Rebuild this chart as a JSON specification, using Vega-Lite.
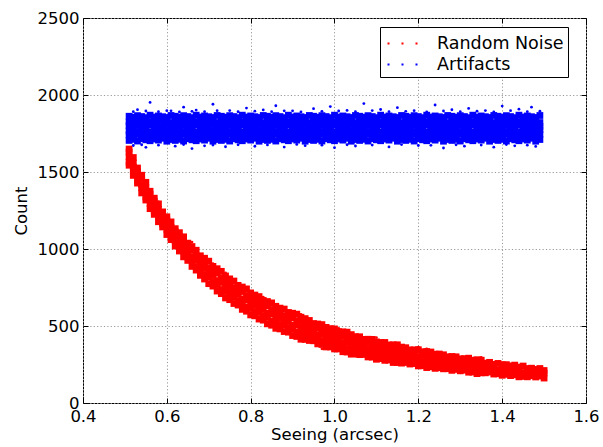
{
"$schema":"https://vega.github.io/schema/vega-lite/v6.json",
"width":503,"height":385,
"autosize":{"type":"none"},
"padding":{"left":83,"top":18,"right":17,"bottom":44},
"background":"white",
"config":{
"view":{"stroke":"black","strokeWidth":1},
"font":"DejaVu Sans",
"axis":{"labelFont":"DejaVu Sans","titleFont":"DejaVu Sans","labelFontSize":16.5,"titleFontSize":16.5,"titleFontWeight":"normal","labelColor":"black","titleColor":"black","domain":false,"tickColor":"black","tickSize":-5,"tickWidth":1,"grid":true,"gridColor":"#999999","gridDash":[1.2,2.2],"gridWidth":1,"labelOverlap":false},
"legend":{"orient":"none","legendX":297,"legendY":9,"strokeColor":"black","fillColor":"white","padding":4,"cornerRadius":0,"symbolType":"M-1.2,-0.08h0.16v0.16h-0.16zM-0.08,-0.08h0.16v0.16h-0.16zM1.04,-0.08h0.16v0.16h-0.16z","symbolSize":625,"symbolStrokeWidth":0,"labelFont":"DejaVu Sans","labelFontSize":17.5,"labelColor":"black","labelOffset":22,"rowPadding":0,"symbolOffset":6}
},
"datasets":{
"noise":[
{"x":0.51,"y":1544},{"x":0.51,"y":1564},{"x":0.51,"y":1598},{"x":0.51,"y":1629},{"x":0.51,"y":1649},
{"x":0.52,"y":1478},{"x":0.52,"y":1513},{"x":0.52,"y":1532},{"x":0.52,"y":1559},{"x":0.52,"y":1594},
{"x":0.53,"y":1428},{"x":0.53,"y":1447},{"x":0.53,"y":1482},{"x":0.53,"y":1506},{"x":0.53,"y":1526},
{"x":0.54,"y":1364},{"x":0.54,"y":1398},{"x":0.54,"y":1417},{"x":0.54,"y":1458},{"x":0.54,"y":1479},
{"x":0.55,"y":1318},{"x":0.55,"y":1337},{"x":0.55,"y":1376},{"x":0.55,"y":1398},{"x":0.55,"y":1433},
{"x":0.56,"y":1262},{"x":0.56,"y":1296},{"x":0.56,"y":1322},{"x":0.56,"y":1355},{"x":0.56,"y":1375},
{"x":0.57,"y":1225},{"x":0.57,"y":1245},{"x":0.57,"y":1279},{"x":0.57,"y":1310},{"x":0.57,"y":1330},
{"x":0.58,"y":1177},{"x":0.58,"y":1212},{"x":0.58,"y":1231},{"x":0.58,"y":1258},{"x":0.58,"y":1293},
{"x":0.59,"y":1143},{"x":0.59,"y":1162},{"x":0.59,"y":1197},{"x":0.59,"y":1221},{"x":0.59,"y":1241},
{"x":0.60,"y":1094},{"x":0.60,"y":1128},{"x":0.60,"y":1147},{"x":0.60,"y":1188},{"x":0.60,"y":1209},
{"x":0.61,"y":1061},{"x":0.61,"y":1080},{"x":0.61,"y":1119},{"x":0.61,"y":1141},{"x":0.61,"y":1176},
{"x":0.62,"y":1019},{"x":0.62,"y":1053},{"x":0.62,"y":1079},{"x":0.62,"y":1112},{"x":0.62,"y":1132},
{"x":0.63,"y":987},{"x":0.63,"y":1011},{"x":0.63,"y":1048},{"x":0.63,"y":1082},{"x":0.63,"y":1106},
{"x":0.64,"y":949},{"x":0.64,"y":988},{"x":0.64,"y":1010},{"x":0.64,"y":1040},{"x":0.64,"y":1079},
{"x":0.65,"y":926},{"x":0.65,"y":949},{"x":0.65,"y":987},{"x":0.65,"y":1014},{"x":0.65,"y":1038},
{"x":0.66,"y":887},{"x":0.66,"y":925},{"x":0.66,"y":947},{"x":0.66,"y":991},{"x":0.66,"y":1016},
{"x":0.67,"y":863},{"x":0.67,"y":886},{"x":0.67,"y":928},{"x":0.67,"y":953},{"x":0.67,"y":992},
{"x":0.68,"y":829},{"x":0.68,"y":867},{"x":0.68,"y":896},{"x":0.68,"y":932},{"x":0.68,"y":956},
{"x":0.69,"y":805},{"x":0.69,"y":833},{"x":0.69,"y":874},{"x":0.69,"y":912},{"x":0.69,"y":940},
{"x":0.70,"y":775},{"x":0.70,"y":818},{"x":0.70,"y":844},{"x":0.70,"y":878},{"x":0.70,"y":921},
{"x":0.71,"y":759},{"x":0.71,"y":786},{"x":0.71,"y":828},{"x":0.71,"y":859},{"x":0.71,"y":887},
{"x":0.72,"y":727},{"x":0.72,"y":769},{"x":0.72,"y":795},{"x":0.72,"y":843},{"x":0.72,"y":872},
{"x":0.73,"y":710},{"x":0.73,"y":737},{"x":0.73,"y":783},{"x":0.73,"y":812},{"x":0.73,"y":855},
{"x":0.74,"y":682},{"x":0.74,"y":724},{"x":0.74,"y":757},{"x":0.74,"y":797},{"x":0.74,"y":825},
{"x":0.75,"y":671},{"x":0.75,"y":699},{"x":0.75,"y":740},{"x":0.75,"y":778},{"x":0.75,"y":806},
{"x":0.76,"y":646},{"x":0.76,"y":689},{"x":0.76,"y":715},{"x":0.76,"y":749},{"x":0.76,"y":792},
{"x":0.77,"y":636},{"x":0.77,"y":663},{"x":0.77,"y":705},{"x":0.77,"y":736},{"x":0.77,"y":764},
{"x":0.78,"y":608},{"x":0.78,"y":650},{"x":0.78,"y":676},{"x":0.78,"y":724},{"x":0.78,"y":753},
{"x":0.79,"y":596},{"x":0.79,"y":623},{"x":0.79,"y":669},{"x":0.79,"y":698},{"x":0.79,"y":741},
{"x":0.80,"y":572},{"x":0.80,"y":614},{"x":0.80,"y":647},{"x":0.80,"y":687},{"x":0.80,"y":715},
{"x":0.81,"y":566},{"x":0.81,"y":594},{"x":0.81,"y":635},{"x":0.81,"y":673},{"x":0.81,"y":701},
{"x":0.82,"y":545},{"x":0.82,"y":588},{"x":0.82,"y":614},{"x":0.82,"y":648},{"x":0.82,"y":691},
{"x":0.83,"y":538},{"x":0.83,"y":565},{"x":0.83,"y":607},{"x":0.83,"y":638},{"x":0.83,"y":666},
{"x":0.84,"y":514},{"x":0.84,"y":556},{"x":0.84,"y":582},{"x":0.84,"y":630},{"x":0.84,"y":659},
{"x":0.85,"y":505},{"x":0.85,"y":532},{"x":0.85,"y":578},{"x":0.85,"y":607},{"x":0.85,"y":650},
{"x":0.86,"y":485},{"x":0.86,"y":527},{"x":0.86,"y":560},{"x":0.86,"y":600},{"x":0.86,"y":628},
{"x":0.87,"y":481},{"x":0.87,"y":509},{"x":0.87,"y":550},{"x":0.87,"y":588},{"x":0.87,"y":616},
{"x":0.88,"y":464},{"x":0.88,"y":507},{"x":0.88,"y":533},{"x":0.88,"y":567},{"x":0.88,"y":610},
{"x":0.89,"y":460},{"x":0.89,"y":487},{"x":0.89,"y":529},{"x":0.89,"y":560},{"x":0.89,"y":588},
{"x":0.90,"y":438},{"x":0.90,"y":480},{"x":0.90,"y":506},{"x":0.90,"y":554},{"x":0.90,"y":583},
{"x":0.91,"y":432},{"x":0.91,"y":459},{"x":0.91,"y":505},{"x":0.91,"y":534},{"x":0.91,"y":577},
{"x":0.92,"y":414},{"x":0.92,"y":456},{"x":0.92,"y":489},{"x":0.92,"y":529},{"x":0.92,"y":557},
{"x":0.93,"y":413},{"x":0.93,"y":441},{"x":0.93,"y":482},{"x":0.93,"y":520},{"x":0.93,"y":548},
{"x":0.94,"y":406},{"x":0.94,"y":445},{"x":0.94,"y":467},{"x":0.94,"y":497},{"x":0.94,"y":536},
{"x":0.95,"y":404},{"x":0.95,"y":427},{"x":0.95,"y":465},{"x":0.95,"y":492},{"x":0.95,"y":516},
{"x":0.96,"y":384},{"x":0.96,"y":422},{"x":0.96,"y":444},{"x":0.96,"y":488},{"x":0.96,"y":513},
{"x":0.97,"y":380},{"x":0.97,"y":403},{"x":0.97,"y":445},{"x":0.97,"y":470},{"x":0.97,"y":509},
{"x":0.98,"y":364},{"x":0.98,"y":402},{"x":0.98,"y":431},{"x":0.98,"y":467},{"x":0.98,"y":491},
{"x":0.99,"y":364},{"x":0.99,"y":388},{"x":0.99,"y":425},{"x":0.99,"y":459},{"x":0.99,"y":483},
{"x":1.00,"y":351},{"x":1.00,"y":390},{"x":1.00,"y":412},{"x":1.00,"y":442},{"x":1.00,"y":481},
{"x":1.01,"y":351},{"x":1.01,"y":374},{"x":1.01,"y":412},{"x":1.01,"y":439},{"x":1.01,"y":463},
{"x":1.02,"y":333},{"x":1.02,"y":371},{"x":1.02,"y":393},{"x":1.02,"y":437},{"x":1.02,"y":462},
{"x":1.03,"y":331},{"x":1.03,"y":354},{"x":1.03,"y":396},{"x":1.03,"y":421},{"x":1.03,"y":460},
{"x":1.04,"y":317},{"x":1.04,"y":355},{"x":1.04,"y":384},{"x":1.04,"y":420},{"x":1.04,"y":444},
{"x":1.05,"y":326},{"x":1.05,"y":346},{"x":1.05,"y":380},{"x":1.05,"y":411},{"x":1.05,"y":431},
{"x":1.06,"y":314},{"x":1.06,"y":349},{"x":1.06,"y":368},{"x":1.06,"y":395},{"x":1.06,"y":430},
{"x":1.07,"y":315},{"x":1.07,"y":334},{"x":1.07,"y":369},{"x":1.07,"y":393},{"x":1.07,"y":413},
{"x":1.08,"y":299},{"x":1.08,"y":333},{"x":1.08,"y":352},{"x":1.08,"y":393},{"x":1.08,"y":414},
{"x":1.09,"y":298},{"x":1.09,"y":317},{"x":1.09,"y":356},{"x":1.09,"y":378},{"x":1.09,"y":413},
{"x":1.10,"y":284},{"x":1.10,"y":318},{"x":1.10,"y":344},{"x":1.10,"y":377},{"x":1.10,"y":397},
{"x":1.11,"y":288},{"x":1.11,"y":308},{"x":1.11,"y":342},{"x":1.11,"y":373},{"x":1.11,"y":393},
{"x":1.12,"y":277},{"x":1.12,"y":312},{"x":1.12,"y":331},{"x":1.12,"y":358},{"x":1.12,"y":393},
{"x":1.13,"y":279},{"x":1.13,"y":298},{"x":1.13,"y":333},{"x":1.13,"y":357},{"x":1.13,"y":377},
{"x":1.14,"y":263},{"x":1.14,"y":297},{"x":1.14,"y":316},{"x":1.14,"y":357},{"x":1.14,"y":378},
{"x":1.15,"y":263},{"x":1.15,"y":282},{"x":1.15,"y":321},{"x":1.15,"y":343},{"x":1.15,"y":378},
{"x":1.16,"y":259},{"x":1.16,"y":297},{"x":1.16,"y":327},{"x":1.16,"y":363},
{"x":1.17,"y":263},{"x":1.17,"y":287},{"x":1.17,"y":325},{"x":1.17,"y":359},
{"x":1.18,"y":253},{"x":1.18,"y":292},{"x":1.18,"y":315},{"x":1.18,"y":345},
{"x":1.19,"y":256},{"x":1.19,"y":279},{"x":1.19,"y":318},{"x":1.19,"y":345},
{"x":1.20,"y":241},{"x":1.20,"y":279},{"x":1.20,"y":302},{"x":1.20,"y":346},
{"x":1.21,"y":242},{"x":1.21,"y":265},{"x":1.21,"y":308},{"x":1.21,"y":333},
{"x":1.22,"y":230},{"x":1.22,"y":268},{"x":1.22,"y":298},{"x":1.22,"y":334},
{"x":1.23,"y":235},{"x":1.23,"y":259},{"x":1.23,"y":297},{"x":1.23,"y":331},
{"x":1.24,"y":225},{"x":1.24,"y":264},{"x":1.24,"y":287},{"x":1.24,"y":317},
{"x":1.25,"y":229},{"x":1.25,"y":252},{"x":1.25,"y":291},{"x":1.25,"y":318},
{"x":1.26,"y":222},{"x":1.26,"y":256},{"x":1.26,"y":273},{"x":1.26,"y":313},
{"x":1.27,"y":223},{"x":1.27,"y":242},{"x":1.27,"y":279},{"x":1.27,"y":300},
{"x":1.28,"y":212},{"x":1.28,"y":246},{"x":1.28,"y":270},{"x":1.28,"y":302},
{"x":1.29,"y":218},{"x":1.29,"y":238},{"x":1.29,"y":270},{"x":1.29,"y":300},
{"x":1.30,"y":209},{"x":1.30,"y":244},{"x":1.30,"y":261},{"x":1.30,"y":287},
{"x":1.31,"y":213},{"x":1.31,"y":232},{"x":1.31,"y":265},{"x":1.31,"y":288},
{"x":1.32,"y":200},{"x":1.32,"y":234},{"x":1.32,"y":251},{"x":1.32,"y":291},
{"x":1.33,"y":201},{"x":1.33,"y":220},{"x":1.33,"y":257},{"x":1.33,"y":278},
{"x":1.34,"y":191},{"x":1.34,"y":225},{"x":1.34,"y":249},{"x":1.34,"y":281},
{"x":1.35,"y":196},{"x":1.35,"y":216},{"x":1.35,"y":248},{"x":1.35,"y":278},
{"x":1.36,"y":196},{"x":1.36,"y":236},{"x":1.36,"y":259},
{"x":1.37,"y":201},{"x":1.37,"y":225},{"x":1.37,"y":264},
{"x":1.38,"y":188},{"x":1.38,"y":227},{"x":1.38,"y":251},
{"x":1.39,"y":190},{"x":1.39,"y":214},{"x":1.39,"y":257},
{"x":1.40,"y":180},{"x":1.40,"y":219},{"x":1.40,"y":248},
{"x":1.41,"y":186},{"x":1.41,"y":211},{"x":1.41,"y":249},
{"x":1.42,"y":178},{"x":1.42,"y":218},{"x":1.42,"y":241},
{"x":1.43,"y":183},{"x":1.43,"y":207},{"x":1.43,"y":246},
{"x":1.44,"y":170},{"x":1.44,"y":209},{"x":1.44,"y":233},
{"x":1.45,"y":173},{"x":1.45,"y":197},{"x":1.45,"y":240},
{"x":1.46,"y":170},{"x":1.46,"y":202},{"x":1.46,"y":224},
{"x":1.47,"y":177},{"x":1.47,"y":195},{"x":1.47,"y":226},
{"x":1.48,"y":169},{"x":1.48,"y":202},{"x":1.48,"y":218},
{"x":1.49,"y":175},{"x":1.49,"y":192},{"x":1.49,"y":224},
{"x":1.50,"y":162},{"x":1.50,"y":194},{"x":1.50,"y":211}
],
"noiseout":[
{"x":0.58,"y":1305},{"x":0.66,"y":1045},{"x":0.74,"y":845},{"x":0.83,"y":688},{"x":0.92,"y":575},
{"x":1.01,"y":485},{"x":1.10,"y":425},{"x":1.20,"y":362},{"x":0.79,"y":590},{"x":0.90,"y":428},
{"x":1.05,"y":303},{"x":1.30,"y":196},{"x":1.40,"y":262},{"x":1.45,"y":163},{"x":0.71,"y":905},
{"x":0.97,"y":352},{"x":1.22,"y":352},{"x":1.35,"y":296},{"x":1.15,"y":252}
],
"art":[
{"x":0.51,"y":1705},{"x":0.51,"y":1741},{"x":0.51,"y":1766},{"x":0.51,"y":1801},{"x":0.51,"y":1825},{"x":0.51,"y":1862},
{"x":0.52,"y":1712},{"x":0.52,"y":1735},{"x":0.52,"y":1772},{"x":0.52,"y":1795},{"x":0.52,"y":1833},{"x":0.52,"y":1856},
{"x":0.53,"y":1701},{"x":0.53,"y":1744},{"x":0.53,"y":1763},{"x":0.53,"y":1804},{"x":0.53,"y":1830},{"x":0.53,"y":1866},
{"x":0.54,"y":1716},{"x":0.54,"y":1737},{"x":0.54,"y":1775},{"x":0.54,"y":1792},{"x":0.54,"y":1822},{"x":0.54,"y":1860},
{"x":0.55,"y":1709},{"x":0.55,"y":1746},{"x":0.55,"y":1769},{"x":0.55,"y":1799},{"x":0.55,"y":1836},{"x":0.55,"y":1853},
{"x":0.56,"y":1703},{"x":0.56,"y":1732},{"x":0.56,"y":1761},{"x":0.56,"y":1806},{"x":0.56,"y":1827},{"x":0.56,"y":1869},
{"x":0.57,"y":1714},{"x":0.57,"y":1743},{"x":0.57,"y":1777},{"x":0.57,"y":1797},{"x":0.57,"y":1831},{"x":0.57,"y":1857},
{"x":0.58,"y":1707},{"x":0.58,"y":1739},{"x":0.58,"y":1765},{"x":0.58,"y":1794},{"x":0.58,"y":1824},{"x":0.58,"y":1864},
{"x":0.59,"y":1719},{"x":0.59,"y":1748},{"x":0.59,"y":1771},{"x":0.59,"y":1803},{"x":0.59,"y":1838},{"x":0.59,"y":1859},
{"x":0.60,"y":1700},{"x":0.60,"y":1734},{"x":0.60,"y":1767},{"x":0.60,"y":1808},{"x":0.60,"y":1829},{"x":0.60,"y":1854},
{"x":0.61,"y":1711},{"x":0.61,"y":1745},{"x":0.61,"y":1774},{"x":0.61,"y":1796},{"x":0.61,"y":1821},{"x":0.61,"y":1867},
{"x":0.62,"y":1705},{"x":0.62,"y":1741},{"x":0.62,"y":1766},{"x":0.62,"y":1801},{"x":0.62,"y":1825},{"x":0.62,"y":1862},
{"x":0.63,"y":1712},{"x":0.63,"y":1735},{"x":0.63,"y":1772},{"x":0.63,"y":1795},{"x":0.63,"y":1833},{"x":0.63,"y":1856},
{"x":0.64,"y":1701},{"x":0.64,"y":1744},{"x":0.64,"y":1763},{"x":0.64,"y":1804},{"x":0.64,"y":1830},{"x":0.64,"y":1866},
{"x":0.65,"y":1716},{"x":0.65,"y":1737},{"x":0.65,"y":1775},{"x":0.65,"y":1792},{"x":0.65,"y":1822},{"x":0.65,"y":1860},
{"x":0.66,"y":1709},{"x":0.66,"y":1746},{"x":0.66,"y":1769},{"x":0.66,"y":1799},{"x":0.66,"y":1836},{"x":0.66,"y":1853},
{"x":0.67,"y":1703},{"x":0.67,"y":1732},{"x":0.67,"y":1761},{"x":0.67,"y":1806},{"x":0.67,"y":1827},{"x":0.67,"y":1869},
{"x":0.68,"y":1714},{"x":0.68,"y":1743},{"x":0.68,"y":1777},{"x":0.68,"y":1797},{"x":0.68,"y":1831},{"x":0.68,"y":1857},
{"x":0.69,"y":1707},{"x":0.69,"y":1739},{"x":0.69,"y":1765},{"x":0.69,"y":1794},{"x":0.69,"y":1824},{"x":0.69,"y":1864},
{"x":0.70,"y":1719},{"x":0.70,"y":1748},{"x":0.70,"y":1771},{"x":0.70,"y":1803},{"x":0.70,"y":1838},{"x":0.70,"y":1859},
{"x":0.71,"y":1700},{"x":0.71,"y":1734},{"x":0.71,"y":1767},{"x":0.71,"y":1808},{"x":0.71,"y":1829},{"x":0.71,"y":1854},
{"x":0.72,"y":1711},{"x":0.72,"y":1745},{"x":0.72,"y":1774},{"x":0.72,"y":1796},{"x":0.72,"y":1821},{"x":0.72,"y":1867},
{"x":0.73,"y":1705},{"x":0.73,"y":1741},{"x":0.73,"y":1766},{"x":0.73,"y":1801},{"x":0.73,"y":1825},{"x":0.73,"y":1862},
{"x":0.74,"y":1712},{"x":0.74,"y":1735},{"x":0.74,"y":1772},{"x":0.74,"y":1795},{"x":0.74,"y":1833},{"x":0.74,"y":1856},
{"x":0.75,"y":1701},{"x":0.75,"y":1744},{"x":0.75,"y":1763},{"x":0.75,"y":1804},{"x":0.75,"y":1830},{"x":0.75,"y":1866},
{"x":0.76,"y":1716},{"x":0.76,"y":1737},{"x":0.76,"y":1775},{"x":0.76,"y":1792},{"x":0.76,"y":1822},{"x":0.76,"y":1860},
{"x":0.77,"y":1709},{"x":0.77,"y":1746},{"x":0.77,"y":1769},{"x":0.77,"y":1799},{"x":0.77,"y":1836},{"x":0.77,"y":1853},
{"x":0.78,"y":1703},{"x":0.78,"y":1732},{"x":0.78,"y":1761},{"x":0.78,"y":1806},{"x":0.78,"y":1827},{"x":0.78,"y":1869},
{"x":0.79,"y":1714},{"x":0.79,"y":1743},{"x":0.79,"y":1777},{"x":0.79,"y":1797},{"x":0.79,"y":1831},{"x":0.79,"y":1857},
{"x":0.80,"y":1707},{"x":0.80,"y":1739},{"x":0.80,"y":1765},{"x":0.80,"y":1794},{"x":0.80,"y":1824},{"x":0.80,"y":1864},
{"x":0.81,"y":1719},{"x":0.81,"y":1748},{"x":0.81,"y":1771},{"x":0.81,"y":1803},{"x":0.81,"y":1838},{"x":0.81,"y":1859},
{"x":0.82,"y":1700},{"x":0.82,"y":1734},{"x":0.82,"y":1767},{"x":0.82,"y":1808},{"x":0.82,"y":1829},{"x":0.82,"y":1854},
{"x":0.83,"y":1711},{"x":0.83,"y":1745},{"x":0.83,"y":1774},{"x":0.83,"y":1796},{"x":0.83,"y":1821},{"x":0.83,"y":1867},
{"x":0.84,"y":1705},{"x":0.84,"y":1741},{"x":0.84,"y":1766},{"x":0.84,"y":1801},{"x":0.84,"y":1825},{"x":0.84,"y":1862},
{"x":0.85,"y":1712},{"x":0.85,"y":1735},{"x":0.85,"y":1772},{"x":0.85,"y":1795},{"x":0.85,"y":1833},{"x":0.85,"y":1856},
{"x":0.86,"y":1701},{"x":0.86,"y":1744},{"x":0.86,"y":1763},{"x":0.86,"y":1804},{"x":0.86,"y":1830},{"x":0.86,"y":1866},
{"x":0.87,"y":1716},{"x":0.87,"y":1737},{"x":0.87,"y":1775},{"x":0.87,"y":1792},{"x":0.87,"y":1822},{"x":0.87,"y":1860},
{"x":0.88,"y":1709},{"x":0.88,"y":1746},{"x":0.88,"y":1769},{"x":0.88,"y":1799},{"x":0.88,"y":1836},{"x":0.88,"y":1853},
{"x":0.89,"y":1703},{"x":0.89,"y":1732},{"x":0.89,"y":1761},{"x":0.89,"y":1806},{"x":0.89,"y":1827},{"x":0.89,"y":1869},
{"x":0.90,"y":1714},{"x":0.90,"y":1743},{"x":0.90,"y":1777},{"x":0.90,"y":1797},{"x":0.90,"y":1831},{"x":0.90,"y":1857},
{"x":0.91,"y":1707},{"x":0.91,"y":1739},{"x":0.91,"y":1765},{"x":0.91,"y":1794},{"x":0.91,"y":1824},{"x":0.91,"y":1864},
{"x":0.92,"y":1719},{"x":0.92,"y":1748},{"x":0.92,"y":1771},{"x":0.92,"y":1803},{"x":0.92,"y":1838},{"x":0.92,"y":1859},
{"x":0.93,"y":1700},{"x":0.93,"y":1734},{"x":0.93,"y":1767},{"x":0.93,"y":1808},{"x":0.93,"y":1829},{"x":0.93,"y":1854},
{"x":0.94,"y":1711},{"x":0.94,"y":1745},{"x":0.94,"y":1774},{"x":0.94,"y":1796},{"x":0.94,"y":1821},{"x":0.94,"y":1867},
{"x":0.95,"y":1705},{"x":0.95,"y":1741},{"x":0.95,"y":1766},{"x":0.95,"y":1801},{"x":0.95,"y":1825},{"x":0.95,"y":1862},
{"x":0.96,"y":1712},{"x":0.96,"y":1735},{"x":0.96,"y":1772},{"x":0.96,"y":1795},{"x":0.96,"y":1833},{"x":0.96,"y":1856},
{"x":0.97,"y":1701},{"x":0.97,"y":1744},{"x":0.97,"y":1763},{"x":0.97,"y":1804},{"x":0.97,"y":1830},{"x":0.97,"y":1866},
{"x":0.98,"y":1716},{"x":0.98,"y":1737},{"x":0.98,"y":1775},{"x":0.98,"y":1792},{"x":0.98,"y":1822},{"x":0.98,"y":1860},
{"x":0.99,"y":1709},{"x":0.99,"y":1746},{"x":0.99,"y":1769},{"x":0.99,"y":1799},{"x":0.99,"y":1836},{"x":0.99,"y":1853},
{"x":1.00,"y":1703},{"x":1.00,"y":1732},{"x":1.00,"y":1761},{"x":1.00,"y":1806},{"x":1.00,"y":1827},{"x":1.00,"y":1869},
{"x":1.01,"y":1714},{"x":1.01,"y":1743},{"x":1.01,"y":1777},{"x":1.01,"y":1797},{"x":1.01,"y":1831},{"x":1.01,"y":1857},
{"x":1.02,"y":1707},{"x":1.02,"y":1739},{"x":1.02,"y":1765},{"x":1.02,"y":1794},{"x":1.02,"y":1824},{"x":1.02,"y":1864},
{"x":1.03,"y":1719},{"x":1.03,"y":1748},{"x":1.03,"y":1771},{"x":1.03,"y":1803},{"x":1.03,"y":1838},{"x":1.03,"y":1859},
{"x":1.04,"y":1700},{"x":1.04,"y":1734},{"x":1.04,"y":1767},{"x":1.04,"y":1808},{"x":1.04,"y":1829},{"x":1.04,"y":1854},
{"x":1.05,"y":1711},{"x":1.05,"y":1745},{"x":1.05,"y":1774},{"x":1.05,"y":1796},{"x":1.05,"y":1821},{"x":1.05,"y":1867},
{"x":1.06,"y":1705},{"x":1.06,"y":1741},{"x":1.06,"y":1766},{"x":1.06,"y":1801},{"x":1.06,"y":1825},{"x":1.06,"y":1862},
{"x":1.07,"y":1712},{"x":1.07,"y":1735},{"x":1.07,"y":1772},{"x":1.07,"y":1795},{"x":1.07,"y":1833},{"x":1.07,"y":1856},
{"x":1.08,"y":1701},{"x":1.08,"y":1744},{"x":1.08,"y":1763},{"x":1.08,"y":1804},{"x":1.08,"y":1830},{"x":1.08,"y":1866},
{"x":1.09,"y":1716},{"x":1.09,"y":1737},{"x":1.09,"y":1775},{"x":1.09,"y":1792},{"x":1.09,"y":1822},{"x":1.09,"y":1860},
{"x":1.10,"y":1709},{"x":1.10,"y":1746},{"x":1.10,"y":1769},{"x":1.10,"y":1799},{"x":1.10,"y":1836},{"x":1.10,"y":1853},
{"x":1.11,"y":1703},{"x":1.11,"y":1732},{"x":1.11,"y":1761},{"x":1.11,"y":1806},{"x":1.11,"y":1827},{"x":1.11,"y":1869},
{"x":1.12,"y":1714},{"x":1.12,"y":1743},{"x":1.12,"y":1777},{"x":1.12,"y":1797},{"x":1.12,"y":1831},{"x":1.12,"y":1857},
{"x":1.13,"y":1707},{"x":1.13,"y":1739},{"x":1.13,"y":1765},{"x":1.13,"y":1794},{"x":1.13,"y":1824},{"x":1.13,"y":1864},
{"x":1.14,"y":1719},{"x":1.14,"y":1748},{"x":1.14,"y":1771},{"x":1.14,"y":1803},{"x":1.14,"y":1838},{"x":1.14,"y":1859},
{"x":1.15,"y":1700},{"x":1.15,"y":1734},{"x":1.15,"y":1767},{"x":1.15,"y":1808},{"x":1.15,"y":1829},{"x":1.15,"y":1854},
{"x":1.16,"y":1711},{"x":1.16,"y":1745},{"x":1.16,"y":1774},{"x":1.16,"y":1796},{"x":1.16,"y":1821},{"x":1.16,"y":1867},
{"x":1.17,"y":1705},{"x":1.17,"y":1741},{"x":1.17,"y":1766},{"x":1.17,"y":1801},{"x":1.17,"y":1825},{"x":1.17,"y":1862},
{"x":1.18,"y":1712},{"x":1.18,"y":1735},{"x":1.18,"y":1772},{"x":1.18,"y":1795},{"x":1.18,"y":1833},{"x":1.18,"y":1856},
{"x":1.19,"y":1701},{"x":1.19,"y":1744},{"x":1.19,"y":1763},{"x":1.19,"y":1804},{"x":1.19,"y":1830},{"x":1.19,"y":1866},
{"x":1.20,"y":1716},{"x":1.20,"y":1737},{"x":1.20,"y":1775},{"x":1.20,"y":1792},{"x":1.20,"y":1822},{"x":1.20,"y":1860},
{"x":1.21,"y":1709},{"x":1.21,"y":1746},{"x":1.21,"y":1769},{"x":1.21,"y":1799},{"x":1.21,"y":1836},{"x":1.21,"y":1853},
{"x":1.22,"y":1703},{"x":1.22,"y":1732},{"x":1.22,"y":1761},{"x":1.22,"y":1806},{"x":1.22,"y":1827},{"x":1.22,"y":1869},
{"x":1.23,"y":1714},{"x":1.23,"y":1743},{"x":1.23,"y":1777},{"x":1.23,"y":1797},{"x":1.23,"y":1831},{"x":1.23,"y":1857},
{"x":1.24,"y":1707},{"x":1.24,"y":1739},{"x":1.24,"y":1765},{"x":1.24,"y":1794},{"x":1.24,"y":1824},{"x":1.24,"y":1864},
{"x":1.25,"y":1719},{"x":1.25,"y":1748},{"x":1.25,"y":1771},{"x":1.25,"y":1803},{"x":1.25,"y":1838},{"x":1.25,"y":1859},
{"x":1.26,"y":1700},{"x":1.26,"y":1734},{"x":1.26,"y":1767},{"x":1.26,"y":1808},{"x":1.26,"y":1829},{"x":1.26,"y":1854},
{"x":1.27,"y":1711},{"x":1.27,"y":1745},{"x":1.27,"y":1774},{"x":1.27,"y":1796},{"x":1.27,"y":1821},{"x":1.27,"y":1867},
{"x":1.28,"y":1705},{"x":1.28,"y":1741},{"x":1.28,"y":1766},{"x":1.28,"y":1801},{"x":1.28,"y":1825},{"x":1.28,"y":1862},
{"x":1.29,"y":1712},{"x":1.29,"y":1735},{"x":1.29,"y":1772},{"x":1.29,"y":1795},{"x":1.29,"y":1833},{"x":1.29,"y":1856},
{"x":1.30,"y":1701},{"x":1.30,"y":1744},{"x":1.30,"y":1763},{"x":1.30,"y":1804},{"x":1.30,"y":1830},{"x":1.30,"y":1866},
{"x":1.31,"y":1716},{"x":1.31,"y":1737},{"x":1.31,"y":1775},{"x":1.31,"y":1792},{"x":1.31,"y":1822},{"x":1.31,"y":1860},
{"x":1.32,"y":1709},{"x":1.32,"y":1746},{"x":1.32,"y":1769},{"x":1.32,"y":1799},{"x":1.32,"y":1836},{"x":1.32,"y":1853},
{"x":1.33,"y":1703},{"x":1.33,"y":1732},{"x":1.33,"y":1761},{"x":1.33,"y":1806},{"x":1.33,"y":1827},{"x":1.33,"y":1869},
{"x":1.34,"y":1714},{"x":1.34,"y":1743},{"x":1.34,"y":1777},{"x":1.34,"y":1797},{"x":1.34,"y":1831},{"x":1.34,"y":1857},
{"x":1.35,"y":1707},{"x":1.35,"y":1739},{"x":1.35,"y":1765},{"x":1.35,"y":1794},{"x":1.35,"y":1824},{"x":1.35,"y":1864},
{"x":1.36,"y":1719},{"x":1.36,"y":1748},{"x":1.36,"y":1771},{"x":1.36,"y":1803},{"x":1.36,"y":1838},{"x":1.36,"y":1859},
{"x":1.37,"y":1700},{"x":1.37,"y":1734},{"x":1.37,"y":1767},{"x":1.37,"y":1808},{"x":1.37,"y":1829},{"x":1.37,"y":1854},
{"x":1.38,"y":1711},{"x":1.38,"y":1745},{"x":1.38,"y":1774},{"x":1.38,"y":1796},{"x":1.38,"y":1821},{"x":1.38,"y":1867},
{"x":1.39,"y":1705},{"x":1.39,"y":1741},{"x":1.39,"y":1766},{"x":1.39,"y":1801},{"x":1.39,"y":1825},{"x":1.39,"y":1862},
{"x":1.40,"y":1712},{"x":1.40,"y":1735},{"x":1.40,"y":1772},{"x":1.40,"y":1795},{"x":1.40,"y":1833},{"x":1.40,"y":1856},
{"x":1.41,"y":1701},{"x":1.41,"y":1744},{"x":1.41,"y":1763},{"x":1.41,"y":1804},{"x":1.41,"y":1830},{"x":1.41,"y":1866},
{"x":1.42,"y":1716},{"x":1.42,"y":1737},{"x":1.42,"y":1775},{"x":1.42,"y":1792},{"x":1.42,"y":1822},{"x":1.42,"y":1860},
{"x":1.43,"y":1709},{"x":1.43,"y":1746},{"x":1.43,"y":1769},{"x":1.43,"y":1799},{"x":1.43,"y":1836},{"x":1.43,"y":1853},
{"x":1.44,"y":1703},{"x":1.44,"y":1732},{"x":1.44,"y":1761},{"x":1.44,"y":1806},{"x":1.44,"y":1827},{"x":1.44,"y":1869},
{"x":1.45,"y":1714},{"x":1.45,"y":1743},{"x":1.45,"y":1777},{"x":1.45,"y":1797},{"x":1.45,"y":1831},{"x":1.45,"y":1857},
{"x":1.46,"y":1707},{"x":1.46,"y":1739},{"x":1.46,"y":1765},{"x":1.46,"y":1794},{"x":1.46,"y":1824},{"x":1.46,"y":1864},
{"x":1.47,"y":1719},{"x":1.47,"y":1748},{"x":1.47,"y":1771},{"x":1.47,"y":1803},{"x":1.47,"y":1838},{"x":1.47,"y":1859},
{"x":1.48,"y":1700},{"x":1.48,"y":1734},{"x":1.48,"y":1767},{"x":1.48,"y":1808},{"x":1.48,"y":1829},{"x":1.48,"y":1854},
{"x":1.49,"y":1711},{"x":1.49,"y":1745},{"x":1.49,"y":1774},{"x":1.49,"y":1796},{"x":1.49,"y":1821},{"x":1.49,"y":1867}
],
"artout":[
{"x":0.53,"y":1905},{"x":0.56,"y":1952},{"x":0.60,"y":1898},{"x":0.64,"y":1921},{"x":0.67,"y":1902},
{"x":0.71,"y":1940},{"x":0.75,"y":1899},{"x":0.79,"y":1915},{"x":0.83,"y":1903},{"x":0.86,"y":1930},
{"x":0.90,"y":1897},{"x":0.95,"y":1911},{"x":0.99,"y":1925},{"x":1.03,"y":1900},{"x":1.07,"y":1944},
{"x":1.11,"y":1906},{"x":1.15,"y":1918},{"x":1.19,"y":1898},{"x":1.24,"y":1935},{"x":1.28,"y":1904},
{"x":1.32,"y":1913},{"x":1.36,"y":1899},{"x":1.40,"y":1928},{"x":1.44,"y":1908},{"x":1.47,"y":1921},
{"x":0.52,"y":1672},{"x":0.55,"y":1660},{"x":0.62,"y":1668},{"x":0.66,"y":1652},{"x":0.69,"y":1670},
{"x":0.74,"y":1664},{"x":0.81,"y":1667},{"x":0.88,"y":1662},{"x":0.93,"y":1671},{"x":1.00,"y":1658},
{"x":1.05,"y":1669},{"x":1.13,"y":1663},{"x":1.20,"y":1672},{"x":1.26,"y":1656},{"x":1.31,"y":1668},
{"x":1.38,"y":1661},{"x":1.43,"y":1670},{"x":1.48,"y":1666},
{"x":0.52,"y":1892},{"x":0.55,"y":1896},{"x":0.58,"y":1891},{"x":0.61,"y":1897},{"x":0.63,"y":1890},
{"x":0.66,"y":1894},{"x":0.69,"y":1892},{"x":0.72,"y":1898},{"x":0.77,"y":1891},{"x":0.81,"y":1895},
{"x":0.85,"y":1892},{"x":0.88,"y":1897},{"x":0.92,"y":1890},{"x":0.97,"y":1894},{"x":1.01,"y":1896},
{"x":1.05,"y":1891},{"x":1.09,"y":1899},{"x":1.13,"y":1892},{"x":1.17,"y":1894},{"x":1.22,"y":1890},
{"x":1.26,"y":1896},{"x":1.30,"y":1892},{"x":1.34,"y":1895},{"x":1.38,"y":1890},{"x":1.42,"y":1898},
{"x":1.46,"y":1892},{"x":1.49,"y":1895},
{"x":0.54,"y":1677},{"x":0.58,"y":1674},{"x":0.64,"y":1678},{"x":0.71,"y":1675},{"x":0.77,"y":1677},
{"x":0.84,"y":1676},{"x":0.91,"y":1679},{"x":0.97,"y":1674},{"x":1.03,"y":1677},{"x":1.09,"y":1675},
{"x":1.16,"y":1678},{"x":1.23,"y":1673},{"x":1.29,"y":1677},{"x":1.35,"y":1675},{"x":1.41,"y":1678},
{"x":1.46,"y":1674}
]
},
"layer":[
{"data":{"name":"noise"},
 "mark":{"type":"square","size":46,"opacity":1},
 "encoding":{
  "x":{"field":"x","type":"quantitative","scale":{"domain":[0.4,1.6],"nice":false,"zero":false},"axis":{"values":[0.4,0.6,0.8,1.0,1.2,1.4,1.6],"format":".1f","labelFlush":false,"labelPadding":10,"title":"Seeing (arcsec)","titlePadding":2}},
  "y":{"field":"y","type":"quantitative","scale":{"domain":[0,2500],"nice":false,"zero":false},"axis":{"values":[0,500,1000,1500,2000,2500],"format":"d","labelFlush":false,"labelPadding":9,"title":"Count","titlePadding":8}},
  "color":{"datum":"Random Noise","type":"nominal","scale":{"domain":["Random Noise","Artifacts"],"range":["#ff0000","#0000ff"]},"legend":{"title":null}}
 }},
{"data":{"name":"noiseout"},
 "mark":{"type":"circle","size":8,"opacity":1},
 "encoding":{
  "x":{"field":"x","type":"quantitative","axis":null},
  "y":{"field":"y","type":"quantitative","axis":null},
  "color":{"datum":"Random Noise","type":"nominal"}
 }},
{"data":{"name":"art"},
 "mark":{"type":"square","size":46,"opacity":1},
 "encoding":{
  "x":{"field":"x","type":"quantitative","axis":{"orient":"top","values":[0.4,0.6,0.8,1.0,1.2,1.4,1.6],"labels":false,"grid":false,"title":null}},
  "y":{"field":"y","type":"quantitative","axis":{"orient":"right","values":[0,500,1000,1500,2000,2500],"labels":false,"grid":false,"title":null}},
  "color":{"datum":"Artifacts","type":"nominal"}
 }},
{"data":{"name":"artout"},
 "mark":{"type":"circle","size":8,"opacity":1},
 "encoding":{
  "x":{"field":"x","type":"quantitative","axis":null},
  "y":{"field":"y","type":"quantitative","axis":null},
  "color":{"datum":"Artifacts","type":"nominal"}
 }}
],
"resolve":{"axis":{"x":"independent","y":"independent"}}
}
